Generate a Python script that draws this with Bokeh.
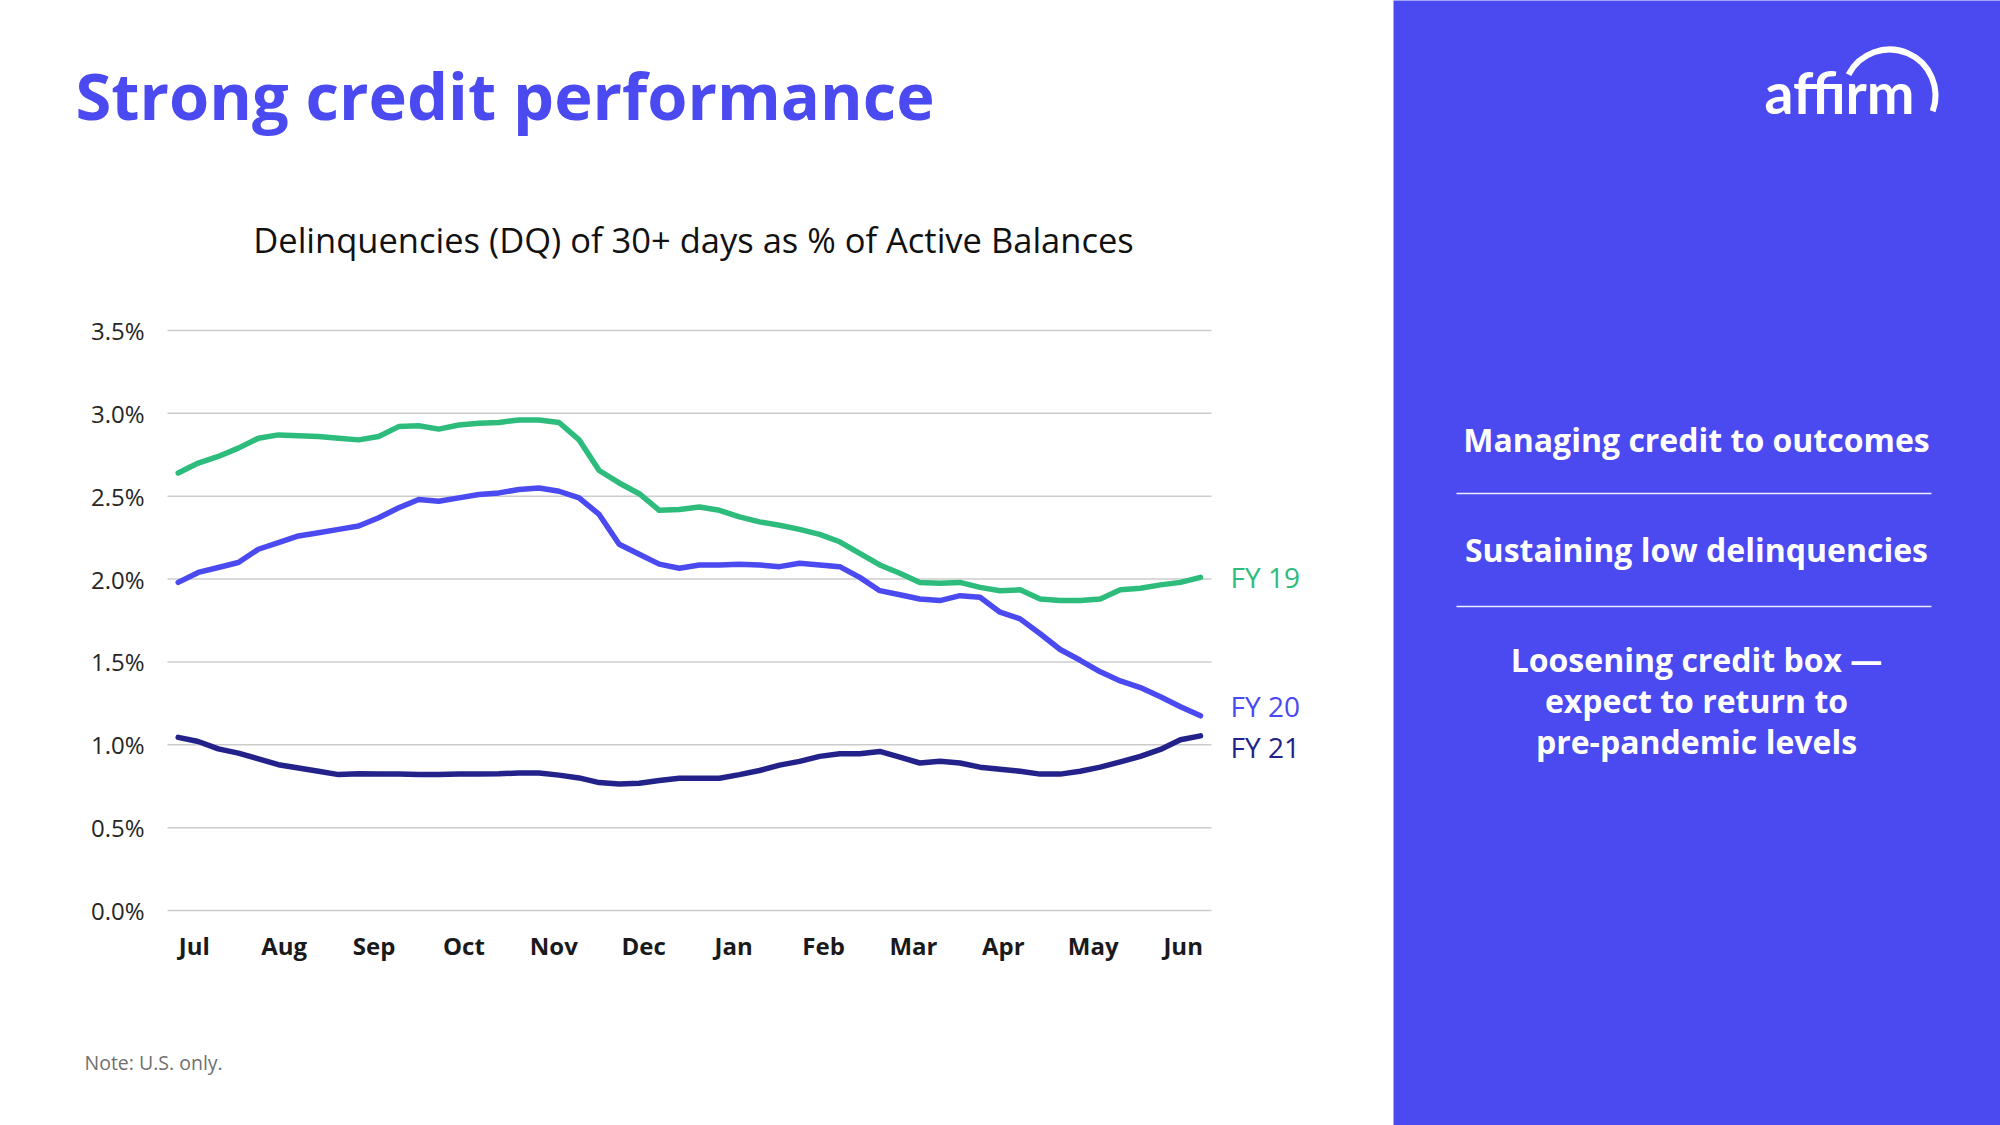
from bokeh.plotting import figure
from bokeh.models import Range1d, FixedTicker, Label, LinearAxis
from bokeh.core.properties import value
from bokeh.embed import file_html
from bokeh.resources import INLINE

# ---------------- data ----------------
months = ["Jul", "Aug", "Sep", "Oct", "Nov", "Dec", "Jan", "Feb", "Mar", "Apr", "May", "Jun"]
y_ticks = [0.0, 0.5, 1.0, 1.5, 2.0, 2.5, 3.0, 3.5]
series_names = ["FY 19", "FY 20", "FY 21"]

fy19 = [2.64, 2.70, 2.74, 2.79, 2.85, 2.87, 2.865, 2.86, 2.85, 2.84,
        2.86, 2.92, 2.925, 2.905, 2.93, 2.94, 2.945, 2.96, 2.96, 2.945,
        2.84, 2.655, 2.58, 2.515, 2.415, 2.42, 2.435, 2.415, 2.375, 2.345,
        2.325, 2.30, 2.27, 2.225, 2.155, 2.085, 2.035, 1.98, 1.975, 1.98,
        1.95, 1.93, 1.935, 1.88, 1.87, 1.87, 1.88, 1.935, 1.945, 1.965,
        1.98, 2.01]
fy20 = [1.98, 2.04, 2.07, 2.10, 2.18, 2.22, 2.26, 2.28, 2.30, 2.32,
        2.37, 2.43, 2.48, 2.47, 2.49, 2.51, 2.52, 2.54, 2.55, 2.53,
        2.49, 2.39, 2.21, 2.15, 2.09, 2.065, 2.085, 2.085, 2.09, 2.085,
        2.075, 2.095, 2.085, 2.075, 2.01, 1.93, 1.905, 1.88, 1.87, 1.90,
        1.89, 1.80, 1.76, 1.67, 1.575, 1.51, 1.44, 1.385, 1.345, 1.29,
        1.23, 1.175]
fy21 = [1.045, 1.02, 0.975, 0.95, 0.915, 0.88, 0.86, 0.84, 0.82, 0.825,
        0.823, 0.823, 0.821, 0.821, 0.823, 0.823, 0.825, 0.83, 0.83, 0.817,
        0.80, 0.772, 0.764, 0.768, 0.784, 0.798, 0.798, 0.798, 0.82, 0.845,
        0.877, 0.90, 0.93, 0.946, 0.946, 0.96, 0.925, 0.89, 0.90, 0.89,
        0.865, 0.853, 0.84, 0.823, 0.823, 0.84, 0.865, 0.897, 0.93, 0.972,
        1.03, 1.054]
series = [fy19, fy20, fy21]

panel_items = [["Managing credit to outcomes"],
               ["Sustaining low delinquencies"],
               ["Loosening credit box \u2014", "expect to return to", "pre-pandemic levels"]]

# ---------------- style / layout (pixels) ----------------
GREEN = "#2EBC7D"
BLUE = "#4A4AF0"
NAVY = "#22228A"
colors = [GREEN, BLUE, NAVY]

W, H = 2000, 1125
PANEL_L = 1393
FRAME_L, FRAME_R, FRAME_T, FRAME_B = 167, 1211, 330, 910
X0_PX, XN_PX = 177.7, 1200.0

weeks = list(range(len(fy19)))
px_per_week = (XN_PX - X0_PX) / (len(weeks) - 1)


def dx(px):
    return (px - X0_PX) / px_per_week


def dy(py):
    return y_ticks[-1] * (FRAME_B - py) / (FRAME_B - FRAME_T)


p = figure(width=W, height=H,
           x_range=Range1d(dx(0), dx(W)), y_range=Range1d(dy(H), dy(0)),
           output_backend="svg", toolbar_location=None,
           x_axis_location=None, y_axis_location=None, min_border=0)
p.outline_line_color = None
p.background_fill_color = "white"
p.border_fill_color = "white"
p.grid.visible = False

# right-hand panel background
p.quad(left=[dx(PANEL_L)], right=[dx(W + 2)], bottom=[dy(H + 2)], top=[dy(-2)],
       fill_color=BLUE, line_color=None)

# horizontal gridlines (chart area only)
p.segment(x0=[dx(FRAME_L)] * len(y_ticks), x1=[dx(FRAME_R)] * len(y_ticks),
          y0=y_ticks, y1=y_ticks, line_color="#cccccc", line_width=1.5)

# axes
yaxis = LinearAxis(fixed_location=dx(FRAME_L), ticker=FixedTicker(ticks=y_ticks))
yaxis.major_label_overrides = {t: "%.1f%%" % t for t in y_ticks}
yaxis.axis_line_color = None
yaxis.major_tick_line_color = None
yaxis.minor_tick_line_color = None
yaxis.major_tick_out = 0
yaxis.major_tick_in = 0
yaxis.major_label_standoff = 23
yaxis.major_label_text_font = "Open Sans"
yaxis.major_label_text_font_size = "24px"
yaxis.major_label_text_color = "#262626"
p.add_layout(yaxis, "left")

month_ticks = [round(0.8 + 4.485 * k, 3) for k in range(len(months))]
xaxis = LinearAxis(fixed_location=y_ticks[0], ticker=FixedTicker(ticks=month_ticks))
xaxis.major_label_overrides = {t: m for t, m in zip(month_ticks, months)}
xaxis.axis_line_color = None
xaxis.major_tick_line_color = None
xaxis.minor_tick_line_color = None
xaxis.major_tick_out = 0
xaxis.major_tick_in = 0
xaxis.major_label_standoff = 18
xaxis.major_label_text_font = "Open Sans"
xaxis.major_label_text_font_style = "bold"
xaxis.major_label_text_font_size = "24px"
xaxis.major_label_text_color = "#1a1a1a"
p.add_layout(xaxis, "below")

# series
for vals, col in zip(series, colors):
    p.line(weeks, vals, line_color=col, line_width=5.5,
           line_join="round", line_cap="round")

# series labels at line ends
label_offsets = [0.0, 0.06, -0.07]
for name, vals, col, off in zip(series_names, series, colors, label_offsets):
    p.add_layout(Label(x=dx(1230), y=vals[-1] + off, text=name,
                       text_font="Open Sans", text_font_size="28px",
                       text_color=col, text_baseline="middle"))

# titles / notes
p.add_layout(Label(x=dx(75), y=dy(94), text="Strong credit performance",
                   text_font="Open Sans", text_font_style="bold",
                   text_font_size="65px", text_color=BLUE,
                   text_baseline="middle"))
p.add_layout(Label(x=dx((FRAME_L + FRAME_R) / 2 + 4), y=dy(239),
                   text="Delinquencies (DQ) of 30+ days as % of Active Balances",
                   text_font="Open Sans", text_font_size="34.5px",
                   text_color="#111111", text_align="center",
                   text_baseline="middle"))
p.add_layout(Label(x=dx(84), y=dy(1062), text="Note: U.S. only.",
                   text_font="Open Sans", text_font_size="19.5px",
                   text_color="#707070", text_baseline="middle"))

# panel texts
cx = PANEL_L + 303
centers = [[439], [549], [659, 700, 741]]
tx, ty, tt = [], [], []
for lines, cs in zip(panel_items, centers):
    for line, c in zip(lines, cs):
        tx.append(dx(cx))
        ty.append(dy(c))
        tt.append(line)
p.text(x=tx, y=ty, text=tt, text_font=value("Open Sans"), text_font_style="bold",
       text_font_size="32px", text_color="white", text_align="center",
       text_baseline="middle")

# separators
p.segment(x0=[dx(PANEL_L + 63)] * 2, x1=[dx(PANEL_L + 538)] * 2,
          y0=[dy(493), dy(606)], y1=[dy(493), dy(606)],
          line_color="white", line_width=1.5, line_alpha=0.9)

# logo
p.text(x=[dx(1764)], y=[dy(91)], text=["affirm"], text_font=value("Lato"),
       text_font_style="bold", text_font_size="57px", text_color="white",
       text_align="left", text_baseline="middle")
p.arc(x=[dx(1889)], y=[dy(95)], radius=46, radius_units="screen",
      start_angle=-20, end_angle=153,
      start_angle_units="deg", end_angle_units="deg",
      line_color="white", line_width=6)

open("out.html", "w").write(file_html(p, INLINE))
